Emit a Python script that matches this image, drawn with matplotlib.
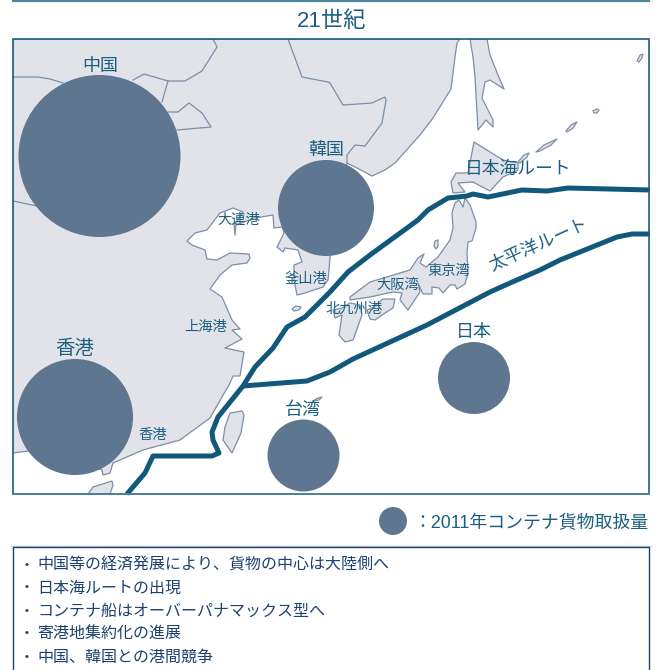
# -*- coding: utf-8 -*-
# East Asia container routes in the 21st century: ports, bubbles for 2011 throughput, two trunk routes.
import matplotlib as mpl; mpl.use('Agg')
import matplotlib.pyplot as plt
from matplotlib.patches import Polygon, Circle, Rectangle
plt.rcParams['font.family'] = ['Liberation Sans', 'Noto Sans CJK JP', 'DejaVu Sans']

TEAL = '#1b5f80'; ROUTE = '#11587a'; LAND = '#e1e3e9'; COAST = '#7d8ea8'; BUB = '#5f7690'; NAVY = '#1d4270'

# map outlines, traced in figure pixels
mainland = [(460,39),(457,43),(455,57),(451,89),(433,118),(420,135),(395,163),(385,170),(372,176),(357,168),(347,163),
            (340,200),(330,257),(329,270),(328,280),(323,287),(305,293),(297,295),(294,280),(294,265),(302,262),(298,250),
            (285,248),(283,252),(277,247),(284,233),(282,227),(274,228),(273,215),(255,218),(236,225),(235,235),(234,225),
            (243,212),(233,208),(220,213),(207,230),(195,233),(187,241),(192,245),(205,250),(207,259),(217,260),(230,253),
            (249,254),(250,258),(247,263),(232,265),(220,275),(210,289),(222,297),(232,320),(240,329),(232,330),(242,339),
            (225,348),(244,352),(240,376),(233,376),(230,383),(210,418),(180,440),(143,450),(113,463),(110,473),(103,475),
            (102,470),(80,460),(28,451),(13,453),(13,39)]
hainan = [(88,494),(93,487),(112,481),(113,485),(110,494)]
sakhalin = [(470,39),(473,57),(475,77),(478,130),(486,120),(493,127),(493,120),(482,98),(485,82),(490,80),(504,89),
            (498,75),(490,55),(487,39)]
hokkaido = [(474,142),(503,160),(518,163),(518,170),(503,177),(490,191),(473,182),(458,183),(465,192),(453,193),
            (451,182),(456,173),(468,173)]
honshu = [(455,203),(459,200),(463,207),(465,198),(470,205),(476,222),(476,228),(472,241),(468,242),(467,253),(468,273),
          (465,284),(457,289),(455,285),(450,285),(443,293),(439,288),(432,287),(432,294),(423,294),(418,283),(420,292),
          (408,310),(400,300),(402,293),(393,292),(370,297),(350,300),(350,297),(370,282),(410,270),(418,258),(424,254),
          (420,263),(426,267),(438,257),(450,240),(453,228),(452,213)]
shikoku = [(372,308),(383,299),(395,299),(393,308),(385,313),(375,320),(370,319),(367,310)]
kyushu = [(333,310),(335,318),(342,315),(339,335),(345,342),(353,340),(362,315),(360,305),(350,303),(342,308)]
taiwan = [(230,413),(242,411),(244,415),(241,433),(232,453),(223,440),(225,427)]
sado = [(434,246),(435,241),(438,240),(438,246),(436,249)]
jeju = [(292,309),(296,306),(301,307),(299,310),(294,311)]
okinawa = [(313,401),(318,398),(322,397),(319,400)]
kurils = [[(637,61),(640,55),(643,54),(642,58),(639,62)],
          [(593,111),(597,109),(599,110),(597,113),(594,113)],
          [(566,131),(571,125),(577,122),(573,128),(567,132)],
          [(536,152),(544,145),(557,139),(551,145),(540,151)],
          [(518,162),(524,155),(529,153),(527,157),(520,163)]]
land_shapes = [mainland, hainan, sakhalin, hokkaido, honshu, shikoku, kyushu, taiwan, sado, jeju, okinawa] + kurils

# inland borders drawn on top of the land fill
borders = [[(288,39),(302,77),(328,82),(330,83),(343,105),(372,103),(385,97),(386,100),(382,123),(365,146),(355,145),(347,155),(347,163)],
           [(13,77),(38,77),(50,79),(63,83)],
           [(133,80),(144,74),(168,81),(185,81),(202,71),(217,47),(213,39)],
           [(168,81),(162,102)],
           [(168,112),(178,112),(189,103),(202,113),(211,127),(177,130)],
           [(13,201),(37,206)]]

# trunk routes
route_japan_sea = [(127,494),(145,473),(153,456),(212,456),(219,453),(213,440),(212,432),(218,417),(243,386),(255,367),
                   (273,348),(287,327),(305,317),(330,292),(348,272),(370,255),(418,220),(428,210),(448,198),(467,196),
                   (473,194),(488,197),(522,190),(547,191),(568,188),(650,190)]
route_pacific = [(243,386),(307,381),(330,372),(353,359),(427,325),(490,292),(510,283),(540,270),(560,260),(617,237),
                 (632,234),(650,234)]

# 2011 container throughput bubbles
bubble_x = [99.5, 326, 75, 303.5, 474]
bubble_y = [156, 208, 417, 455.5, 378]
bubble_r = [81, 48, 58, 36, 36]

region_labels = ['中国', '韓国', '香港', '台湾', '日本']
region_pos = [(100,66), (326,151), (75,349), (303,410), (474,332)]
port_labels = ['大連港', '釜山港', '上海港', '香港', '北九州港', '大阪湾', '東京湾']
port_pos = [(239,220), (306,279), (206,327), (153,435), (354,309), (398,285), (449,271)]
notes = ['中国等の経済発展により、貨物の中心は大陸側へ', '日本海ルートの出現', 'コンテナ船はオーバーパナマックス型へ',
         '寄港地集約化の進展', '中国、韓国との港間競争']
note_y = [565, 588, 611, 634, 657]

fig = plt.figure(figsize=(6.58, 6.70), dpi=100)
ax = fig.add_axes([0, 0, 1, 1]); ax.set_xlim(0, 658); ax.set_ylim(670, 0); ax.axis('off')

frame = Rectangle((13, 39), 636, 455, fc='white', ec='none', zorder=0)
ax.add_patch(frame)
for shape in land_shapes:
    p = Polygon(shape, closed=True, fc=LAND, ec=COAST, lw=0.9, joinstyle='round', zorder=1)
    ax.add_patch(p); p.set_clip_path(frame)
for b in borders:
    ax.plot(*zip(*b), color=COAST, lw=0.9, solid_joinstyle='round', zorder=2)
for x, y, r in zip(bubble_x, bubble_y, bubble_r):
    ax.add_patch(Circle((x, y), r, fc=BUB, ec='none', zorder=3))
for rt in (route_japan_sea, route_pacific):
    ax.plot(*zip(*rt), color=ROUTE, lw=3.6, solid_joinstyle='round', solid_capstyle='butt', zorder=4)

# frame and top rule
ax.add_patch(Rectangle((13, 39), 636, 455, fc='none', ec=TEAL, lw=1.2, zorder=5))
ax.plot([13, 649], [494, 494], color='#4f86a0', lw=1.2, zorder=5)
ax.plot([13, 649], [1, 1], color='#4f86a0', lw=1.6, zorder=5)
ax.text(331.5, 21, '21世紀', fontsize=16, color=TEAL, ha='center', va='center')

for s, (x, y), fs in zip(region_labels, region_pos, [13, 13, 14, 13, 13]):
    ax.text(x, y, s, fontsize=fs, color=TEAL, ha='center', va='center', zorder=6)
for s, (x, y) in zip(port_labels, port_pos):
    ax.text(x, y, s, fontsize=10.3, color=TEAL, ha='center', va='center', zorder=6)
ax.text(518, 169, '日本海ルート', fontsize=12.8, color=TEAL, ha='center', va='center', zorder=6)
ax.text(539, 245, '太平洋ルート', fontsize=12.8, color=TEAL, ha='center', va='center', rotation=24, zorder=6)

# legend bubble
ax.add_patch(Circle((393, 521), 14, fc=BUB, ec='none', zorder=3))
ax.text(413, 524, '：2011年コンテナ貨物取扱量', fontsize=12.9, color=TEAL, ha='left', va='center')

# notes box, runs off the bottom edge
ax.plot([11, 651], [546, 546], color='#c3cfdc', lw=1.0, zorder=1)
ax.add_patch(Rectangle((13, 547), 636, 140, fc='white', ec=NAVY, lw=1.0, zorder=2))
for s, y in zip(notes, note_y):
    ax.text(27, y, '・', fontsize=11.5, color=NAVY, ha='center', va='center', zorder=3)
    ax.text(37, y, s, fontsize=11.5, color=NAVY, ha='left', va='center', zorder=3)

fig.savefig('out.png', dpi=100)
